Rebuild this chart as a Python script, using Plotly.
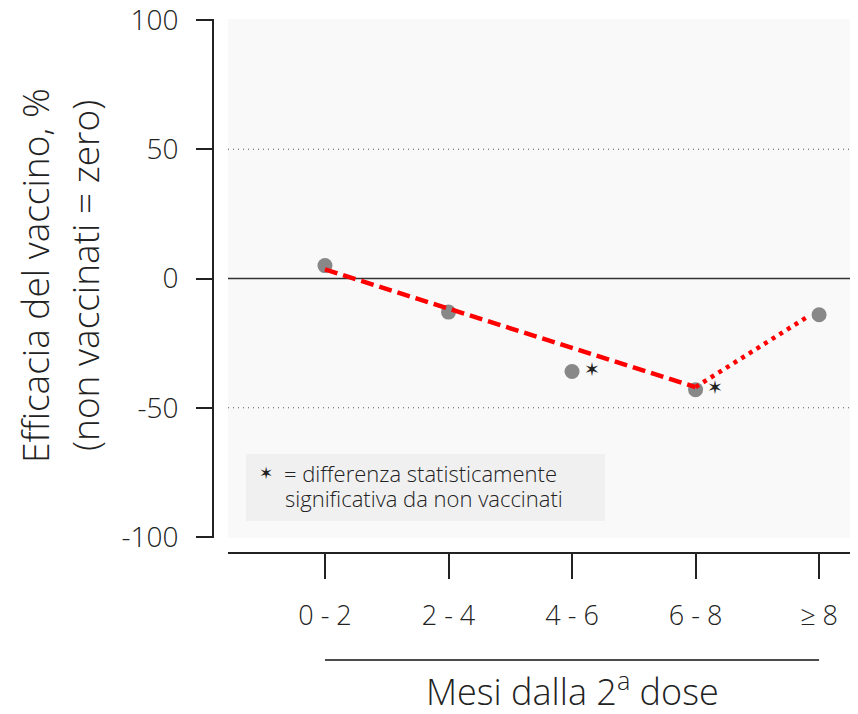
import plotly.graph_objects as go

# ---- data ----
categories = ["0 - 2", "2 - 4", "4 - 6", "6 - 8", "≥ 8"]
efficacy = [5, -13, -36, -43, -14]
significant = [False, False, True, True, False]
trend_x = [0, 3]
trend_y = [3.5, -42]
after_x = [3, 3.9]
after_y = [-42, -15]
y_ticks = [-100, -50, 0, 50, 100]
y_ticklabels = ["-100", "-50", "0", "50", "100"]

# page body has an 8px default margin: lay out in screen pixels and shift
OFF = 8
W, H = 858 - OFF, 714 - OFF
FONT = "Open Sans"
WT = 300
TXT = "#222222"


def px(x):
    return (x - OFF) / W


def py(y):
    return 1 - (y - OFF) / H


x_pos = list(range(len(categories)))

fig = go.Figure()

# markers
fig.add_trace(go.Scatter(
    x=x_pos, y=efficacy, mode="markers",
    marker=dict(color="#888888", size=15, line=dict(width=0)),
    showlegend=False, hoverinfo="skip"))

# trend lines
fig.add_trace(go.Scatter(
    x=trend_x, y=trend_y, mode="lines",
    line=dict(color="#ff0000", width=4.5, dash="13px,6px"),
    showlegend=False, hoverinfo="skip"))
fig.add_trace(go.Scatter(
    x=after_x, y=after_y, mode="lines",
    line=dict(color="#ff0000", width=4.5, dash="4px,5px"),
    showlegend=False, hoverinfo="skip"))

# significance stars
star_x = [x + 0.16 for x, s in zip(x_pos, significant) if s]
star_y = [v for v, s in zip(efficacy, significant) if s]
fig.add_trace(go.Scatter(
    x=star_x, y=star_y, mode="text", text=["✶"] * len(star_x),
    textfont=dict(family="DejaVu Sans", size=19, color=TXT),
    showlegend=False, hoverinfo="skip"))

# reference lines
fig.add_shape(type="line", xref="x domain", x0=0, x1=1, yref="y", y0=0, y1=0,
              line=dict(color="#333333", width=1.5), layer="below")
for v in (50, -50):
    fig.add_shape(type="line", xref="x domain", x0=0, x1=1, yref="y", y0=v, y1=v,
                  line=dict(color="#555555", width=1.2, dash="1px,4px"), layer="below")

# legend box
fig.add_shape(type="rect", xref="paper", yref="paper",
              x0=px(246), x1=px(605), y0=py(521), y1=py(454),
              fillcolor="#f0f0f0", line=dict(width=0), layer="below")
fig.add_annotation(xref="paper", yref="paper", x=px(257), y=py(473),
                   text="✶", showarrow=False, xanchor="left", yanchor="middle",
                   font=dict(family="DejaVu Sans", size=17, color=TXT))
fig.add_annotation(xref="paper", yref="paper", x=px(282), y=py(473),
                   text="= differenza statisticamente", showarrow=False,
                   xanchor="left", yanchor="middle",
                   font=dict(family=FONT, size=22, color=TXT, weight=WT))
fig.add_annotation(xref="paper", yref="paper", x=px(283), y=py(498),
                   text="significativa da non vaccinati", showarrow=False,
                   xanchor="left", yanchor="middle",
                   font=dict(family=FONT, size=22, color=TXT, weight=WT))

# x title with rule
fig.add_shape(type="line", xref="x", yref="paper", x0=0, x1=4,
              y0=py(660), y1=py(660), line=dict(color="#111111", width=1.5))
fig.add_annotation(xref="x", yref="paper", x=2, y=py(689),
                   text="Mesi dalla 2<sup>a</sup> dose", showarrow=False,
                   xanchor="center", yanchor="middle",
                   font=dict(family=FONT, size=36, color=TXT, weight=WT))

# y title
fig.add_annotation(xref="paper", yref="paper", x=px(34), y=py(276),
                   text="Efficacia del vaccino, %", showarrow=False, textangle=-90,
                   xanchor="center", yanchor="middle",
                   font=dict(family=FONT, size=37, color=TXT, weight=WT))
fig.add_annotation(xref="paper", yref="paper", x=px(84), y=py(276),
                   text="(non vaccinati = zero)", showarrow=False, textangle=-90,
                   xanchor="center", yanchor="middle",
                   font=dict(family=FONT, size=37, color=TXT, weight=WT))

fig.update_layout(
    width=W, height=H, autosize=False,
    margin=dict(l=0, r=0, t=0, b=0, autoexpand=False),
    paper_bgcolor="white", plot_bgcolor="#f9f9f9",
    font=dict(family=FONT, color=TXT, weight=WT),
    xaxis=dict(
        domain=[px(228), 1], range=[-0.785, 4.315],
        anchor="free", position=py(553), automargin=False,
        tickvals=x_pos, ticktext=categories,
        showline=True, linecolor="#222222", linewidth=2,
        ticks="outside", ticklen=25, tickwidth=2, tickcolor="#222222",
        ticklabelstandoff=14, ticklabeloverflow="allow",
        tickfont=dict(family=FONT, size=27, color=TXT, weight=WT),
        showgrid=False, zeroline=False, fixedrange=True),
    yaxis=dict(
        domain=[py(538), py(19)], range=[-100.4, 100.4],
        anchor="free", position=px(213), automargin=False,
        tickvals=y_ticks, ticktext=y_ticklabels,
        showline=True, linecolor="#222222", linewidth=2,
        ticks="outside", ticklen=16, tickwidth=2, tickcolor="#222222",
        ticklabelstandoff=12, ticklabeloverflow="allow",
        tickfont=dict(family=FONT, size=28, color=TXT, weight=WT),
        showgrid=False, zeroline=False, fixedrange=True),
)

fig.write_html("out.html")
